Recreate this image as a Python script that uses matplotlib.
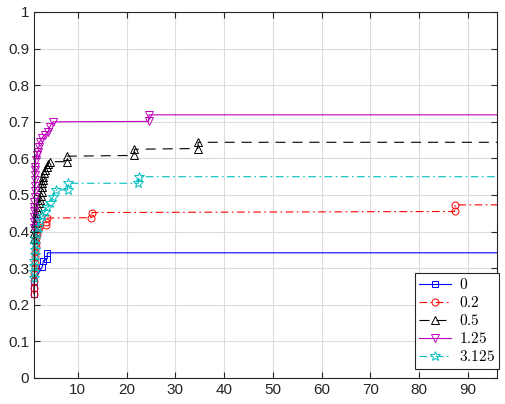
import matplotlib.pyplot as plt
import numpy as np

plt.rcParams['font.family'] = 'Liberation Sans'
plt.rcParams['mathtext.fontset'] = 'cm'
plt.rcParams['lines.scale_dashes'] = False

# series labels
labels = ['0', '0.2', '0.5', '1.25', '3.125']

# blue, 0
x0 = [1.0, 1.0, 1.05, 2.7, 2.95, 3.7, 3.75, 96]
y0 = [0.230, 0.246, 0.266, 0.304, 0.320, 0.325, 0.342, 0.342]

# red, 0.2
x1 = [1.0, 1.0, 1.05, 1.1, 1.15, 1.2, 1.25, 1.3, 1.35, 1.4, 1.5, 1.6, 1.7, 1.8, 2.0,
      3.4, 3.5, 3.6, 12.8, 12.9, 87.3, 87.4, 96]
y1 = [0.230, 0.246, 0.266, 0.285, 0.300, 0.315, 0.330, 0.345, 0.358, 0.370, 0.382, 0.392, 0.400, 0.408, 0.412,
      0.418, 0.425, 0.437, 0.438, 0.452, 0.455, 0.473, 0.473]

# black, 0.5
x2 = [1.0, 1.0, 1.1, 1.2, 1.35, 1.5, 1.7, 1.86, 2.0, 2.2, 2.4, 2.55, 2.55, 2.7, 2.9, 2.9, 3.0, 3.3, 3.6, 3.9, 4.3,
      7.7, 7.8, 21.5, 21.6, 34.6, 34.7, 96]
y2 = [0.380, 0.395, 0.410, 0.423, 0.437, 0.450, 0.460, 0.468, 0.477, 0.486, 0.498, 0.509, 0.523, 0.532, 0.541, 0.550, 0.559, 0.568, 0.577, 0.585, 0.591,
      0.591, 0.606, 0.608, 0.625, 0.627, 0.644, 0.644]

# magenta, 1.25
x3 = [1.0, 1.0, 1.05, 1.05, 1.1, 1.1, 1.15, 1.15, 1.2, 1.2, 1.2, 1.25, 1.25, 1.32, 1.53, 1.86, 2.0, 2.2, 2.55, 3.23, 3.91, 4.26, 4.94,
      24.5, 24.6, 96]
y3 = [0.410, 0.425, 0.440, 0.455, 0.468, 0.482, 0.495, 0.510, 0.525, 0.540, 0.555, 0.568, 0.577, 0.596, 0.609, 0.618, 0.632, 0.646, 0.655, 0.664, 0.673, 0.687, 0.700,
      0.701, 0.719, 0.719]

# cyan, 3.125
x4 = [1.0, 1.05, 1.1, 1.1, 1.15, 1.2, 1.25, 1.3, 1.53, 1.86, 2.2, 2.6, 3.2, 3.6, 4.3, 4.9, 5.6,
      7.9, 8.0, 22.4, 22.5, 96]
y4 = [0.273, 0.290, 0.305, 0.320, 0.335, 0.350, 0.365, 0.380, 0.395, 0.413, 0.432, 0.443, 0.454, 0.468, 0.477, 0.495, 0.514,
      0.514, 0.532, 0.532, 0.550, 0.550]

xticks = [10, 20, 30, 40, 50, 60, 70, 80, 90]
yticks = [0, 0.1, 0.2, 0.3, 0.4, 0.5, 0.6, 0.7, 0.8, 0.9, 1]
ytick_labels = ['0', '0.1', '0.2', '0.3', '0.4', '0.5', '0.6', '0.7', '0.8', '0.9', '1']

dashdot = (5.5, 2.5, 1.2, 2.5)
dash = (7.2, 5)

fig = plt.figure(figsize=(5.05, 4.04), dpi=100)
ax = fig.add_axes([0.0673, 0.0644, 0.9168, 0.9059])

series = [
    (x0, y0, 'b', 's', 5, None),
    (x1, y1, 'r', 'o', 5, dashdot),
    (x2, y2, 'k', '^', 6, dash),
    (x3, y3, 'm', 'v', 6, None),
    (x4, y4, 'c', '*', 7, dashdot),
]
for (x, y, c, m, ms, d), lab in zip(series, labels):
    kw = {}
    if d is not None:
        kw['dashes'] = d
    # no marker on the last point, which sits on the right edge
    ax.plot(x, y, '-', color=c, marker=m, ms=ms, mfc='none', lw=0.8, mew=0.7,
            markevery=list(range(len(x) - 1)), clip_on=False, label='$' + lab + '$', **kw)

ax.set_xlim(1, 96)
ax.set_ylim(0, 1)
ax.set_xticks(xticks)
ax.set_yticks(yticks)
ax.set_yticklabels(ytick_labels)
ax.grid(True, color='#dcdcdc', lw=0.8)
ax.set_axisbelow(True)
ax.tick_params(direction='in', length=4, width=0.8, colors='#262626', labelsize=11,
               top=True, right=True, labelcolor='#262626')
for s in ax.spines.values():
    s.set_color('#262626')
    s.set_linewidth(0.8)

leg = ax.legend(loc='lower right', bbox_to_anchor=(0.989, 0.0866), bbox_transform=fig.transFigure,
                fontsize=11, handlelength=2.1, handletextpad=0.5, borderpad=0.3,
                labelspacing=0.2, borderaxespad=0, fancybox=False, framealpha=1)
leg.get_frame().set_edgecolor('#262626')
leg.get_frame().set_linewidth(0.8)

plt.savefig('out.png', dpi=100)
